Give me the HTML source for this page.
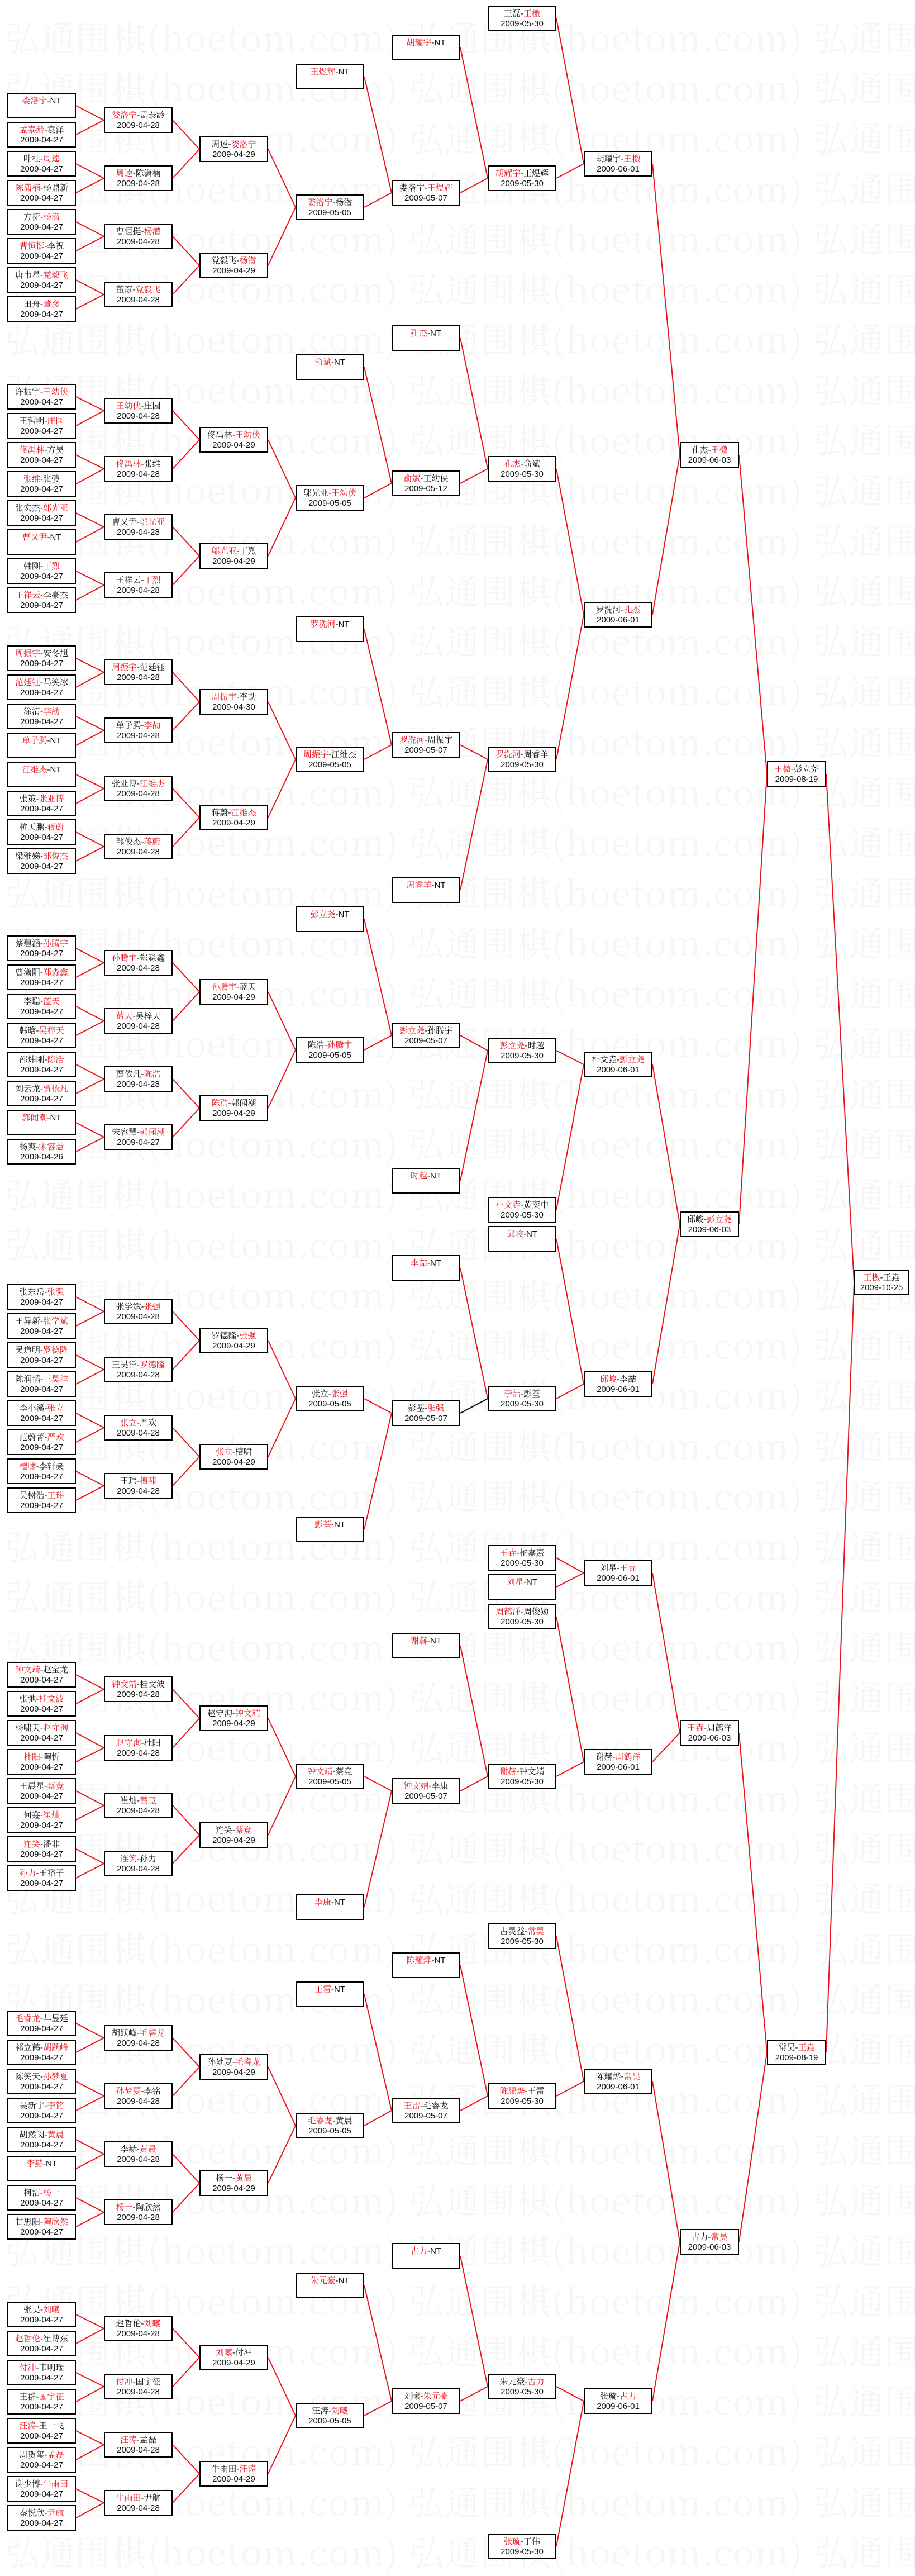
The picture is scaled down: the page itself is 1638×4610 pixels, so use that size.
<!DOCTYPE html>
<html><head><meta charset="utf-8">
<style>
html,body{margin:0;padding:0;background:#fff;}
body{width:1638px;height:4589px;position:relative;overflow:hidden;}
.wm{position:absolute;left:8px;top:20px;width:1638px;font:62px "Noto Serif CJK SC","Liberation Serif",serif;color:#f6f6f6;line-height:90px;white-space:pre;letter-spacing:2px;}
svg{position:absolute;left:0;top:0;}
.b{position:absolute;box-sizing:border-box;height:46px;border:2px solid #000;background:#fff;text-align:center;font:15px "Liberation Sans","Noto Serif CJK SC",serif;line-height:18px;padding-top:4px;color:#111;white-space:nowrap;overflow:hidden;}
.b i{font-style:normal;color:#e8141b;}
.c1{left:13px;width:123px}.c2{left:186px;width:123px}.c3{left:357px;width:123px}.c4{left:529px;width:123px}.c5{left:701px;width:123px}.c6{left:873px;width:123px}.c7{left:1045px;width:123px}.c8{left:1217px;width:106px}.c9{left:1373px;width:106px}.c10{left:1529px;width:98px}
</style></head><body>
<div class="wm">弘通围棋(hoetom.com) 弘通围棋(hoetom.com) 弘通围棋
弘通围棋(hoetom.com) 弘通围棋(hoetom.com) 弘通围棋
弘通围棋(hoetom.com) 弘通围棋(hoetom.com) 弘通围棋
弘通围棋(hoetom.com) 弘通围棋(hoetom.com) 弘通围棋
弘通围棋(hoetom.com) 弘通围棋(hoetom.com) 弘通围棋
弘通围棋(hoetom.com) 弘通围棋(hoetom.com) 弘通围棋
弘通围棋(hoetom.com) 弘通围棋(hoetom.com) 弘通围棋
弘通围棋(hoetom.com) 弘通围棋(hoetom.com) 弘通围棋
弘通围棋(hoetom.com) 弘通围棋(hoetom.com) 弘通围棋
弘通围棋(hoetom.com) 弘通围棋(hoetom.com) 弘通围棋
弘通围棋(hoetom.com) 弘通围棋(hoetom.com) 弘通围棋
弘通围棋(hoetom.com) 弘通围棋(hoetom.com) 弘通围棋
弘通围棋(hoetom.com) 弘通围棋(hoetom.com) 弘通围棋
弘通围棋(hoetom.com) 弘通围棋(hoetom.com) 弘通围棋
弘通围棋(hoetom.com) 弘通围棋(hoetom.com) 弘通围棋
弘通围棋(hoetom.com) 弘通围棋(hoetom.com) 弘通围棋
弘通围棋(hoetom.com) 弘通围棋(hoetom.com) 弘通围棋
弘通围棋(hoetom.com) 弘通围棋(hoetom.com) 弘通围棋
弘通围棋(hoetom.com) 弘通围棋(hoetom.com) 弘通围棋
弘通围棋(hoetom.com) 弘通围棋(hoetom.com) 弘通围棋
弘通围棋(hoetom.com) 弘通围棋(hoetom.com) 弘通围棋
弘通围棋(hoetom.com) 弘通围棋(hoetom.com) 弘通围棋
弘通围棋(hoetom.com) 弘通围棋(hoetom.com) 弘通围棋
弘通围棋(hoetom.com) 弘通围棋(hoetom.com) 弘通围棋
弘通围棋(hoetom.com) 弘通围棋(hoetom.com) 弘通围棋
弘通围棋(hoetom.com) 弘通围棋(hoetom.com) 弘通围棋
弘通围棋(hoetom.com) 弘通围棋(hoetom.com) 弘通围棋
弘通围棋(hoetom.com) 弘通围棋(hoetom.com) 弘通围棋
弘通围棋(hoetom.com) 弘通围棋(hoetom.com) 弘通围棋
弘通围棋(hoetom.com) 弘通围棋(hoetom.com) 弘通围棋
弘通围棋(hoetom.com) 弘通围棋(hoetom.com) 弘通围棋
弘通围棋(hoetom.com) 弘通围棋(hoetom.com) 弘通围棋
弘通围棋(hoetom.com) 弘通围棋(hoetom.com) 弘通围棋
弘通围棋(hoetom.com) 弘通围棋(hoetom.com) 弘通围棋
弘通围棋(hoetom.com) 弘通围棋(hoetom.com) 弘通围棋
弘通围棋(hoetom.com) 弘通围棋(hoetom.com) 弘通围棋
弘通围棋(hoetom.com) 弘通围棋(hoetom.com) 弘通围棋
弘通围棋(hoetom.com) 弘通围棋(hoetom.com) 弘通围棋
弘通围棋(hoetom.com) 弘通围棋(hoetom.com) 弘通围棋
弘通围棋(hoetom.com) 弘通围棋(hoetom.com) 弘通围棋
弘通围棋(hoetom.com) 弘通围棋(hoetom.com) 弘通围棋
弘通围棋(hoetom.com) 弘通围棋(hoetom.com) 弘通围棋
弘通围棋(hoetom.com) 弘通围棋(hoetom.com) 弘通围棋
弘通围棋(hoetom.com) 弘通围棋(hoetom.com) 弘通围棋
弘通围棋(hoetom.com) 弘通围棋(hoetom.com) 弘通围棋
弘通围棋(hoetom.com) 弘通围棋(hoetom.com) 弘通围棋
弘通围棋(hoetom.com) 弘通围棋(hoetom.com) 弘通围棋
弘通围棋(hoetom.com) 弘通围棋(hoetom.com) 弘通围棋
弘通围棋(hoetom.com) 弘通围棋(hoetom.com) 弘通围棋
弘通围棋(hoetom.com) 弘通围棋(hoetom.com) 弘通围棋
弘通围棋(hoetom.com) 弘通围棋(hoetom.com) 弘通围棋</div>

<svg width="1638" height="4589" viewBox="0 0 1638 4589">
<g fill="none" stroke="#e8141b" stroke-width="2">
<path d="M136 189L186 215 M136 241L186 215 M136 293L186 319 M136 345L186 319 M136 397L186 423 M136 449L186 423 M136 501L186 527 M136 553L186 527 M309 215L357 267 M309 319L357 267 M309 423L357 475 M309 527L357 475 M480 267L529 371 M480 475L529 371 M652 137L701 345 M652 371L701 345 M824 85L873 319 M824 345L873 319 M996 33L1045 293 M996 319L1045 293 M1168 293L1217 814 M1168 1100L1217 814"/>
<path d="M136 710L186 735 M136 762L186 735 M136 814L186 839 M136 866L186 839 M136 918L186 943 M136 970L186 943 M136 1022L186 1047 M136 1074L186 1047 M309 735L357 787 M309 839L357 787 M309 943L357 995 M309 1047L357 995 M480 787L529 891 M480 995L529 891 M652 657L701 865 M652 891L701 865 M824 605L873 839 M824 865L873 839 M996 839L1045 1100 M996 1359L1045 1100"/>
<path d="M136 1178L186 1203 M136 1230L186 1203 M136 1282L186 1307 M136 1334L186 1307 M136 1386L186 1411 M136 1438L186 1411 M136 1489L186 1515 M136 1541L186 1515 M309 1203L357 1256 M309 1307L357 1256 M309 1411L357 1463 M309 1515L357 1463 M480 1256L529 1359 M480 1463L529 1359 M652 1126L701 1333 M652 1359L701 1333 M824 1333L873 1359 M824 1593L873 1359"/>
<path d="M136 1697L186 1723 M136 1749L186 1723 M136 1801L186 1827 M136 1853L186 1827 M136 1905L186 1931 M136 1957L186 1931 M136 2009L186 2035 M136 2061L186 2035 M309 1723L357 1775 M309 1827L357 1775 M309 1931L357 1983 M309 2035L357 1983 M480 1775L529 1879 M480 1983L529 1879 M652 1645L701 1853 M652 1879L701 1853 M824 1853L873 1880 M824 2113L873 1880 M996 1880L1045 1905 M996 2165L1045 1905 M1168 1905L1217 2191 M1168 2477L1217 2191 M1323 814L1373 1385 M1323 2191L1373 1385 M1479 1385L1529 2295 M1479 3673L1529 2295"/>
<path d="M136 2321L186 2347 M136 2373L186 2347 M136 2425L186 2451 M136 2477L186 2451 M136 2529L186 2555 M136 2581L186 2555 M136 2633L186 2659 M136 2685L186 2659 M309 2347L357 2399 M309 2451L357 2399 M309 2555L357 2607 M309 2659L357 2607 M480 2399L529 2503 M480 2607L529 2503 M652 2503L701 2529 M652 2737L701 2529 M824 2269L873 2503 M996 2217L1045 2477 M996 2503L1045 2477 M996 2788L1045 2815 M996 2840L1045 2815 M996 2893L1045 3153 M996 3179L1045 3153 M1168 2815L1217 3101 M1168 3153L1217 3101 M1323 3101L1373 3673 M1323 4012L1373 3673"/>
<path d="M136 2997L186 3023 M136 3049L186 3023 M136 3101L186 3128 M136 3153L186 3128 M136 3205L186 3231 M136 3257L186 3231 M136 3309L186 3335 M136 3361L186 3335 M309 3023L357 3075 M309 3128L357 3075 M309 3231L357 3284 M309 3335L357 3284 M480 3075L529 3179 M480 3284L529 3179 M652 3179L701 3205 M652 3413L701 3205 M824 2945L873 3179 M824 3205L873 3179"/>
<path d="M136 3621L186 3647 M136 3673L186 3647 M136 3725L186 3751 M136 3777L186 3751 M136 3829L186 3855 M136 3881L186 3855 M136 3933L186 3959 M136 3985L186 3959 M309 3647L357 3699 M309 3751L357 3699 M309 3855L357 3907 M309 3959L357 3907 M480 3699L529 3804 M480 3907L529 3804 M652 3569L701 3777 M652 3804L701 3777 M824 3517L873 3751 M824 3777L873 3751 M996 3465L1045 3725 M996 3751L1045 3725 M1168 3725L1217 4012 M1168 4297L1217 4012"/>
<path d="M136 4142L186 4167 M136 4194L186 4167 M136 4246L186 4271 M136 4298L186 4271 M136 4350L186 4375 M136 4402L186 4375 M136 4454L186 4479 M136 4506L186 4479 M309 4167L357 4219 M309 4271L357 4219 M309 4375L357 4427 M309 4479L357 4427 M480 4219L529 4323 M480 4427L529 4323 M652 4090L701 4297 M652 4323L701 4297 M824 4037L873 4271 M824 4297L873 4271 M996 4271L1045 4297 M996 4557L1045 4297"/>
</g>
<path d="M824 2529L873 2503" stroke="#000" stroke-width="2" fill="none"/>
</svg>

<!-- Group A -->
<div class="b c1" style="top:166px"><i>娄洛宁</i>-NT</div>
<div class="b c1" style="top:218px"><i>孟泰龄</i>-袁泽<br>2009-04-27</div>
<div class="b c1" style="top:270px">叶桂-<i>周逵</i><br>2009-04-27</div>
<div class="b c1" style="top:322px"><i>陈潇楠</i>-杨鼎新<br>2009-04-27</div>
<div class="b c1" style="top:374px">方捷-<i>杨潜</i><br>2009-04-27</div>
<div class="b c1" style="top:426px"><i>曹恒挺</i>-李祝<br>2009-04-27</div>
<div class="b c1" style="top:478px">唐韦星-<i>党毅飞</i><br>2009-04-27</div>
<div class="b c1" style="top:530px">田舟-<i>董彦</i><br>2009-04-27</div>
<div class="b c2" style="top:192px"><i>娄洛宁</i>-孟泰龄<br>2009-04-28</div>
<div class="b c2" style="top:296px"><i>周逵</i>-陈潇楠<br>2009-04-28</div>
<div class="b c2" style="top:400px">曹恒挺-<i>杨潜</i><br>2009-04-28</div>
<div class="b c2" style="top:504px">董彦-<i>党毅飞</i><br>2009-04-28</div>
<div class="b c3" style="top:244px">周逵-<i>娄洛宁</i><br>2009-04-29</div>
<div class="b c3" style="top:452px">党毅飞-<i>杨潜</i><br>2009-04-29</div>
<div class="b c4" style="top:114px"><i>王煜辉</i>-NT</div>
<div class="b c4" style="top:348px"><i>娄洛宁</i>-杨潜<br>2009-05-05</div>
<div class="b c5" style="top:62px"><i>胡耀宇</i>-NT</div>
<div class="b c5" style="top:322px">娄洛宁-<i>王煜辉</i><br>2009-05-07</div>
<div class="b c6" style="top:10px">王磊-<i>王檄</i><br>2009-05-30</div>
<div class="b c6" style="top:296px"><i>胡耀宇</i>-王煜辉<br>2009-05-30</div>
<div class="b c7" style="top:270px">胡耀宇-<i>王檄</i><br>2009-06-01</div>

<!-- Group B -->
<div class="b c1" style="top:687px">许振宇-<i>王幼侠</i><br>2009-04-27</div>
<div class="b c1" style="top:739px">王哲明-<i>庄园</i><br>2009-04-27</div>
<div class="b c1" style="top:791px"><i>佟禹林</i>-方昊<br>2009-04-27</div>
<div class="b c1" style="top:843px"><i>张维</i>-张弢<br>2009-04-27</div>
<div class="b c1" style="top:895px">张宏杰-<i>邬光亚</i><br>2009-04-27</div>
<div class="b c1" style="top:947px"><i>曹又尹</i>-NT</div>
<div class="b c1" style="top:999px">韩刚-<i>丁烈</i><br>2009-04-27</div>
<div class="b c1" style="top:1051px"><i>王祥云</i>-李豪杰<br>2009-04-27</div>
<div class="b c2" style="top:712px"><i>王幼侠</i>-庄园<br>2009-04-28</div>
<div class="b c2" style="top:816px"><i>佟禹林</i>-张维<br>2009-04-28</div>
<div class="b c2" style="top:920px">曹又尹-<i>邬光亚</i><br>2009-04-28</div>
<div class="b c2" style="top:1024px">王祥云-<i>丁烈</i><br>2009-04-28</div>
<div class="b c3" style="top:764px">佟禹林-<i>王幼侠</i><br>2009-04-29</div>
<div class="b c3" style="top:972px"><i>邬光亚</i>-丁烈<br>2009-04-29</div>
<div class="b c4" style="top:634px"><i>俞斌</i>-NT</div>
<div class="b c4" style="top:868px">邬光亚-<i>王幼侠</i><br>2009-05-05</div>
<div class="b c5" style="top:582px"><i>孔杰</i>-NT</div>
<div class="b c5" style="top:842px"><i>俞斌</i>-王幼侠<br>2009-05-12</div>
<div class="b c6" style="top:816px"><i>孔杰</i>-俞斌<br>2009-05-30</div>
<div class="b c7" style="top:1077px">罗洗河-<i>孔杰</i><br>2009-06-01</div>
<div class="b c8" style="top:791px">孔杰-<i>王檄</i><br>2009-06-03</div>

<!-- Group C -->
<div class="b c1" style="top:1155px"><i>周振宇</i>-安冬旭<br>2009-04-27</div>
<div class="b c1" style="top:1207px"><i>范廷钰</i>-马笑冰<br>2009-04-27</div>
<div class="b c1" style="top:1259px">涂清-<i>李劼</i><br>2009-04-27</div>
<div class="b c1" style="top:1311px"><i>单子腾</i>-NT</div>
<div class="b c1" style="top:1363px"><i>江维杰</i>-NT</div>
<div class="b c1" style="top:1415px">张策-<i>张亚博</i><br>2009-04-27</div>
<div class="b c1" style="top:1466px">杭天鹏-<i>蒋蔚</i><br>2009-04-27</div>
<div class="b c1" style="top:1518px">梁雅娣-<i>邹俊杰</i><br>2009-04-27</div>
<div class="b c2" style="top:1180px"><i>周振宇</i>-范廷钰<br>2009-04-28</div>
<div class="b c2" style="top:1284px">单子腾-<i>李劼</i><br>2009-04-28</div>
<div class="b c2" style="top:1388px">张亚博-<i>江维杰</i><br>2009-04-28</div>
<div class="b c2" style="top:1492px">邹俊杰-<i>蒋蔚</i><br>2009-04-28</div>
<div class="b c3" style="top:1233px"><i>周振宇</i>-李劼<br>2009-04-30</div>
<div class="b c3" style="top:1440px">蒋蔚-<i>江维杰</i><br>2009-04-29</div>
<div class="b c4" style="top:1103px"><i>罗洗河</i>-NT</div>
<div class="b c4" style="top:1336px"><i>周振宇</i>-江维杰<br>2009-05-05</div>
<div class="b c5" style="top:1310px"><i>罗洗河</i>-周振宇<br>2009-05-07</div>
<div class="b c5" style="top:1570px"><i>周睿羊</i>-NT</div>
<div class="b c6" style="top:1336px"><i>罗洗河</i>-周睿羊<br>2009-05-30</div>

<!-- Group D -->
<div class="b c1" style="top:1674px">蔡碧涵-<i>孙腾宇</i><br>2009-04-27</div>
<div class="b c1" style="top:1726px">曹潇阳-<i>郑淼鑫</i><br>2009-04-27</div>
<div class="b c1" style="top:1778px">李聪-<i>蓝天</i><br>2009-04-27</div>
<div class="b c1" style="top:1830px">韩晗-<i>吴梓天</i><br>2009-04-27</div>
<div class="b c1" style="top:1882px">邵炜刚-<i>陈浩</i><br>2009-04-27</div>
<div class="b c1" style="top:1934px">刘云龙-<i>贾依凡</i><br>2009-04-27</div>
<div class="b c1" style="top:1986px"><i>郭闻潮</i>-NT</div>
<div class="b c1" style="top:2038px">杨爽-<i>宋容慧</i><br>2009-04-26</div>
<div class="b c2" style="top:1700px"><i>孙腾宇</i>-郑淼鑫<br>2009-04-28</div>
<div class="b c2" style="top:1804px"><i>蓝天</i>-吴梓天<br>2009-04-28</div>
<div class="b c2" style="top:1908px">贾依凡-<i>陈浩</i><br>2009-04-28</div>
<div class="b c2" style="top:2012px">宋容慧-<i>郭闻潮</i><br>2009-04-27</div>
<div class="b c3" style="top:1752px"><i>孙腾宇</i>-蓝天<br>2009-04-29</div>
<div class="b c3" style="top:1960px"><i>陈浩</i>-郭闻潮<br>2009-04-29</div>
<div class="b c4" style="top:1622px"><i>彭立尧</i>-NT</div>
<div class="b c4" style="top:1856px">陈浩-<i>孙腾宇</i><br>2009-05-05</div>
<div class="b c5" style="top:1830px"><i>彭立尧</i>-孙腾宇<br>2009-05-07</div>
<div class="b c5" style="top:2090px"><i>时越</i>-NT</div>
<div class="b c6" style="top:1857px"><i>彭立尧</i>-时越<br>2009-05-30</div>
<div class="b c6" style="top:2142px"><i>朴文垚</i>-黄奕中<br>2009-05-30</div>
<div class="b c6" style="top:2194px"><i>邱峻</i>-NT</div>
<div class="b c7" style="top:1882px">朴文垚-<i>彭立尧</i><br>2009-06-01</div>
<div class="b c8" style="top:2168px">邱峻-<i>彭立尧</i><br>2009-06-03</div>
<div class="b c9" style="top:1362px"><i>王檄</i>-彭立尧<br>2009-08-19</div>
<div class="b c10" style="top:2272px"><i>王檄</i>-王垚<br>2009-10-25</div>

<!-- Group E -->
<div class="b c1" style="top:2298px">张东岳-<i>张强</i><br>2009-04-27</div>
<div class="b c1" style="top:2350px">王异新-<i>张学斌</i><br>2009-04-27</div>
<div class="b c1" style="top:2402px">吴道明-<i>罗德隆</i><br>2009-04-27</div>
<div class="b c1" style="top:2454px">陈润韬-<i>王昊洋</i><br>2009-04-27</div>
<div class="b c1" style="top:2506px">李小溪-<i>张立</i><br>2009-04-27</div>
<div class="b c1" style="top:2558px">范蔚菁-<i>严欢</i><br>2009-04-27</div>
<div class="b c1" style="top:2610px"><i>檀啸</i>-李轩豪<br>2009-04-27</div>
<div class="b c1" style="top:2662px">吴树浩-<i>王玮</i><br>2009-04-27</div>
<div class="b c2" style="top:2324px">张学斌-<i>张强</i><br>2009-04-28</div>
<div class="b c2" style="top:2428px">王昊洋-<i>罗德隆</i><br>2009-04-28</div>
<div class="b c2" style="top:2532px"><i>张立</i>-严欢<br>2009-04-28</div>
<div class="b c2" style="top:2636px">王玮-<i>檀啸</i><br>2009-04-28</div>
<div class="b c3" style="top:2376px">罗德隆-<i>张强</i><br>2009-04-29</div>
<div class="b c3" style="top:2584px"><i>张立</i>-檀啸<br>2009-04-29</div>
<div class="b c4" style="top:2480px">张立-<i>张强</i><br>2009-05-05</div>
<div class="b c4" style="top:2714px"><i>彭荃</i>-NT</div>
<div class="b c5" style="top:2246px"><i>李喆</i>-NT</div>
<div class="b c5" style="top:2506px">彭荃-<i>张强</i><br>2009-05-07</div>
<div class="b c6" style="top:2480px"><i>李喆</i>-彭荃<br>2009-05-30</div>
<div class="b c7" style="top:2454px"><i>邱峻</i>-李喆<br>2009-06-01</div>
<div class="b c6" style="top:2765px"><i>王垚</i>-柁嘉熹<br>2009-05-30</div>
<div class="b c6" style="top:2817px"><i>刘星</i>-NT</div>
<div class="b c6" style="top:2870px"><i>周鹤洋</i>-周俊勋<br>2009-05-30</div>
<div class="b c6" style="top:3156px"><i>谢赫</i>-钟文靖<br>2009-05-30</div>
<div class="b c7" style="top:2792px">刘星-<i>王垚</i><br>2009-06-01</div>
<div class="b c7" style="top:3130px">谢赫-<i>周鹤洋</i><br>2009-06-01</div>
<div class="b c8" style="top:3078px"><i>王垚</i>-周鹤洋<br>2009-06-03</div>

<!-- Group F -->
<div class="b c1" style="top:2974px"><i>钟文靖</i>-赵宝龙<br>2009-04-27</div>
<div class="b c1" style="top:3026px">张弛-<i>桂文波</i><br>2009-04-27</div>
<div class="b c1" style="top:3078px">杨啸天-<i>赵守洵</i><br>2009-04-27</div>
<div class="b c1" style="top:3130px"><i>杜阳</i>-陶忻<br>2009-04-27</div>
<div class="b c1" style="top:3182px">王晨星-<i>蔡竞</i><br>2009-04-27</div>
<div class="b c1" style="top:3234px">何鑫-<i>崔灿</i><br>2009-04-27</div>
<div class="b c1" style="top:3286px"><i>连笑</i>-潘非<br>2009-04-27</div>
<div class="b c1" style="top:3338px"><i>孙力</i>-王裕子<br>2009-04-27</div>
<div class="b c2" style="top:3000px"><i>钟文靖</i>-桂文波<br>2009-04-28</div>
<div class="b c2" style="top:3105px"><i>赵守洵</i>-杜阳<br>2009-04-28</div>
<div class="b c2" style="top:3208px">崔灿-<i>蔡竞</i><br>2009-04-28</div>
<div class="b c2" style="top:3312px"><i>连笑</i>-孙力<br>2009-04-28</div>
<div class="b c3" style="top:3052px">赵守洵-<i>钟文靖</i><br>2009-04-29</div>
<div class="b c3" style="top:3261px">连笑-<i>蔡竞</i><br>2009-04-29</div>
<div class="b c4" style="top:3156px"><i>钟文靖</i>-蔡竞<br>2009-05-05</div>
<div class="b c4" style="top:3390px"><i>李康</i>-NT</div>
<div class="b c5" style="top:2922px"><i>谢赫</i>-NT</div>
<div class="b c5" style="top:3182px"><i>钟文靖</i>-李康<br>2009-05-07</div>

<!-- Group G -->
<div class="b c1" style="top:3598px"><i>毛睿龙</i>-芈昱廷<br>2009-04-27</div>
<div class="b c1" style="top:3650px">祁立鹤-<i>胡跃峰</i><br>2009-04-27</div>
<div class="b c1" style="top:3702px">陈笑天-<i>孙梦夏</i><br>2009-04-27</div>
<div class="b c1" style="top:3754px">吴新宇-<i>李铭</i><br>2009-04-27</div>
<div class="b c1" style="top:3806px">胡然闵-<i>黄晨</i><br>2009-04-27</div>
<div class="b c1" style="top:3858px"><i>李赫</i>-NT</div>
<div class="b c1" style="top:3910px">柯洁-<i>杨一</i><br>2009-04-27</div>
<div class="b c1" style="top:3962px">甘思阳-<i>陶欣然</i><br>2009-04-27</div>
<div class="b c2" style="top:3624px">胡跃峰-<i>毛睿龙</i><br>2009-04-28</div>
<div class="b c2" style="top:3728px"><i>孙梦夏</i>-李铭<br>2009-04-28</div>
<div class="b c2" style="top:3832px">李赫-<i>黄晨</i><br>2009-04-28</div>
<div class="b c2" style="top:3936px"><i>杨一</i>-陶欣然<br>2009-04-28</div>
<div class="b c3" style="top:3676px">孙梦夏-<i>毛睿龙</i><br>2009-04-29</div>
<div class="b c3" style="top:3884px">杨一-<i>黄晨</i><br>2009-04-29</div>
<div class="b c4" style="top:3546px"><i>王雷</i>-NT</div>
<div class="b c4" style="top:3781px"><i>毛睿龙</i>-黄晨<br>2009-05-05</div>
<div class="b c5" style="top:3494px"><i>陈耀烨</i>-NT</div>
<div class="b c5" style="top:3754px"><i>王雷</i>-毛睿龙<br>2009-05-07</div>
<div class="b c6" style="top:3442px">古灵益-<i>常昊</i><br>2009-05-30</div>
<div class="b c6" style="top:3728px"><i>陈耀烨</i>-王雷<br>2009-05-30</div>
<div class="b c7" style="top:3702px">陈耀烨-<i>常昊</i><br>2009-06-01</div>
<div class="b c8" style="top:3989px">古力-<i>常昊</i><br>2009-06-03</div>
<div class="b c9" style="top:3650px">常昊-<i>王垚</i><br>2009-08-19</div>

<!-- Group H -->
<div class="b c1" style="top:4119px">张昊-<i>刘曦</i><br>2009-04-27</div>
<div class="b c1" style="top:4171px"><i>赵哲伦</i>-崔博东<br>2009-04-27</div>
<div class="b c1" style="top:4223px"><i>付冲</i>-韦明瑞<br>2009-04-27</div>
<div class="b c1" style="top:4275px">王群-<i>国宇征</i><br>2009-04-27</div>
<div class="b c1" style="top:4327px"><i>汪涛</i>-王一飞<br>2009-04-27</div>
<div class="b c1" style="top:4379px">周贺玺-<i>孟磊</i><br>2009-04-27</div>
<div class="b c1" style="top:4431px">谢少博-<i>牛雨田</i><br>2009-04-27</div>
<div class="b c1" style="top:4483px">秦悦欣-<i>尹航</i><br>2009-04-27</div>
<div class="b c2" style="top:4144px">赵哲伦-<i>刘曦</i><br>2009-04-28</div>
<div class="b c2" style="top:4248px"><i>付冲</i>-国宇征<br>2009-04-28</div>
<div class="b c2" style="top:4352px"><i>汪涛</i>-孟磊<br>2009-04-28</div>
<div class="b c2" style="top:4456px"><i>牛雨田</i>-尹航<br>2009-04-28</div>
<div class="b c3" style="top:4196px"><i>刘曦</i>-付冲<br>2009-04-29</div>
<div class="b c3" style="top:4404px">牛雨田-<i>汪涛</i><br>2009-04-29</div>
<div class="b c4" style="top:4067px"><i>朱元豪</i>-NT</div>
<div class="b c4" style="top:4300px">汪涛-<i>刘曦</i><br>2009-05-05</div>
<div class="b c5" style="top:4014px"><i>古力</i>-NT</div>
<div class="b c5" style="top:4274px">刘曦-<i>朱元豪</i><br>2009-05-07</div>
<div class="b c6" style="top:4248px">朱元豪-<i>古力</i><br>2009-05-30</div>
<div class="b c6" style="top:4534px"><i>张璇</i>-丁伟<br>2009-05-30</div>
<div class="b c7" style="top:4274px">张璇-<i>古力</i><br>2009-06-01</div>
</body></html>
